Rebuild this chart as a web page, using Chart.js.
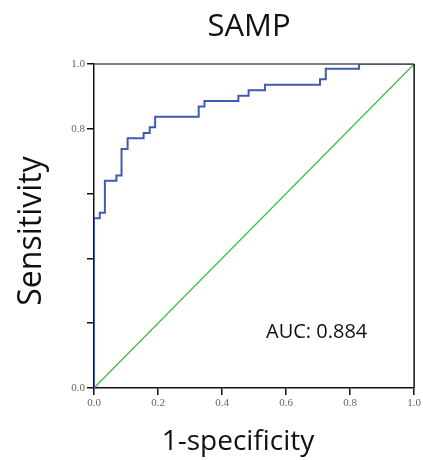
<!DOCTYPE html>
<html>
<head>
<meta charset="utf-8">
<script src="https://cdn.jsdelivr.net/npm/chart.js@4/dist/chart.umd.min.js"></script>
<style>
html,body{margin:0;padding:0;background:#fff;}
#wrap{width:423px;height:460px;}
</style>
</head>
<body>
<div id="wrap"><canvas id="c" width="423" height="460"></canvas></div>
<script>
// ROC curve points (1-specificity, sensitivity)
const fpr = [0, 0, 0.018, 0.034, 0.070, 0.086, 0.105, 0.155, 0.174, 0.191, 0.327, 0.345, 0.451, 0.483, 0.534, 0.706, 0.724, 0.828, 1.0];
const tpr = [0, 0.524, 0.541, 0.640, 0.656, 0.738, 0.771, 0.787, 0.805, 0.837, 0.869, 0.886, 0.902, 0.919, 0.936, 0.953, 0.985, 1.0, 1.0];
// Reference line
const refX = [0, 1];
const refY = [0, 1];
// Tick labels
const xTickLabels = ['0.0', '0.2', '0.4', '0.6', '0.8', '1.0'];
const yTickLabels = ['0.0', '', '', '', '0.8', '1.0'];
const titleText = 'SAMP';
const xTitle = '1-specificity';
const yTitle = 'Sensitivity';
const aucText = 'AUC: 0.884';

const rocData = fpr.map((x, i) => ({x: x, y: tpr[i]}));
const refData = refX.map((x, i) => ({x: x, y: refY[i]}));

const textPlugin = {
  id: 'texts',
  afterDraw(chart) {
    const ctx = chart.ctx;
    const ca = chart.chartArea;
    ctx.save();
    // frame top and right
    ctx.lineWidth = 1.5;
    ctx.strokeStyle = '#555';
    ctx.beginPath(); ctx.moveTo(ca.left, ca.top); ctx.lineTo(ca.right, ca.top); ctx.stroke();
    ctx.strokeStyle = '#111';
    ctx.beginPath(); ctx.moveTo(ca.right, ca.top); ctx.lineTo(ca.right, ca.bottom); ctx.stroke();

    ctx.fillStyle = '#111';
    ctx.textBaseline = 'alphabetic';
    ctx.textAlign = 'center';
    ctx.font = '31px "Open Sans"';
    ctx.fillText(titleText, 249, 36);
    ctx.font = '28px "Open Sans"';
    ctx.fillText(xTitle, 238, 450);
    ctx.save();
    ctx.translate(41, 231);
    ctx.rotate(-Math.PI / 2);
    ctx.font = '32px "Open Sans"';
    ctx.fillText(yTitle, 0, 0);
    ctx.restore();
    ctx.textAlign = 'left';
    ctx.font = '20px "Open Sans"';
    ctx.fillText(aucText, 266, 338);
    ctx.restore();
  }
};

new Chart(document.getElementById('c'), {
  type: 'scatter',
  data: {
    datasets: [
      {
        label: 'ROC',
        data: rocData,
        showLine: true,
        stepped: 'before',
        borderColor: '#3f5bb0',
        borderWidth: 2,
        pointRadius: 0,
        fill: false
      },
      {
        label: 'Reference',
        data: refData,
        showLine: true,
        borderColor: '#3cbf4a',
        borderWidth: 1.3,
        pointRadius: 0,
        fill: false
      }
    ]
  },
  options: {
    responsive: false,
    animation: false,
    devicePixelRatio: 1,
    layout: {padding: {left: 0, top: 64, right: 8, bottom: 0}},
    plugins: {legend: {display: false}, tooltip: {enabled: false}, title: {display: false}},
    scales: {
      x: {
        type: 'linear', min: 0, max: 1,
        afterFit(s) { s.height = 72; },
        grid: {drawOnChartArea: false, drawTicks: true, tickLength: 7, color: '#111', lineWidth: 1.5},
        border: {color: '#111', width: 1.5},
        ticks: {
          stepSize: 0.2, padding: 2, maxRotation: 0, color: '#666',
          font: {family: '"Liberation Serif", serif', size: 11},
          callback: (v, i) => xTickLabels[i]
        }
      },
      y: {
        type: 'linear', min: 0, max: 1,
        afterFit(s) { s.width = 94; },
        grid: {drawOnChartArea: false, drawTicks: true, tickLength: 7, color: '#111', lineWidth: 1.5},
        border: {color: '#111', width: 1.5},
        ticks: {
          stepSize: 0.2, padding: 2, color: '#666',
          font: {family: '"Liberation Serif", serif', size: 11},
          callback: (v, i) => yTickLabels[i]
        }
      }
    }
  },
  plugins: [textPlugin]
});
</script>
</body>
</html>
